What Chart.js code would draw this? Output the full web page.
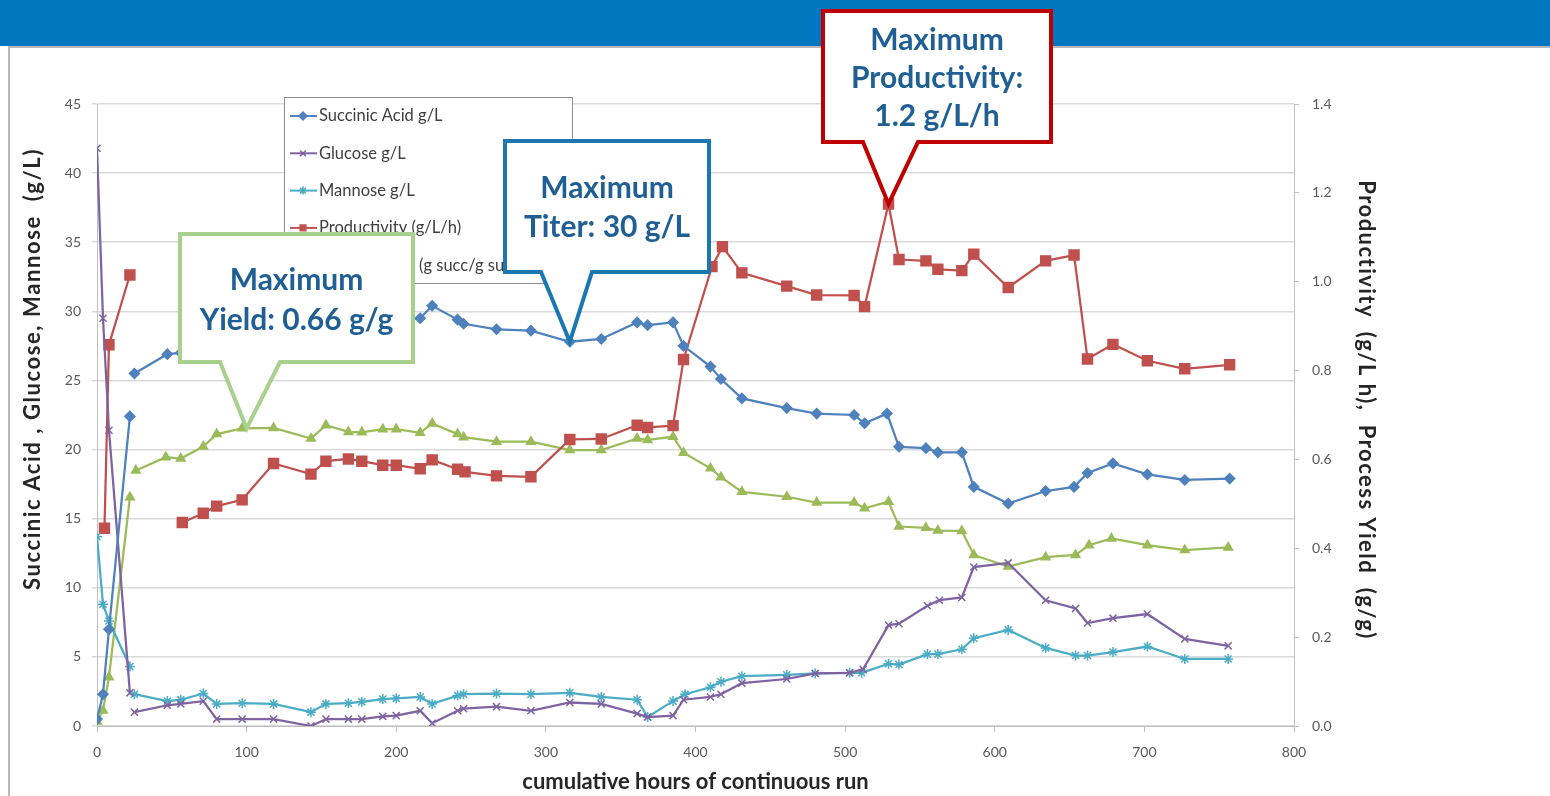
<!DOCTYPE html>
<html>
<head>
<meta charset="utf-8">
<script src="https://cdn.jsdelivr.net/npm/chart.js@4.4.1/dist/chart.umd.min.js"></script>
<style>
  html, body { margin: 0; padding: 0; background: #fff; }
  body { width: 1550px; height: 796px; position: relative; overflow: hidden; }
  .banner { position: absolute; left: 0; top: 0; width: 1550px; height: 46px; background: #0077c0; }
  .frame { position: absolute; left: 8px; top: 46px; width: 1542px; height: 750px;
           border-left: 2px solid #b8b8b8; border-top: 2px solid #b8b8b8; box-sizing: border-box; }
  #chart { position: absolute; left: 0; top: 0; }
</style>
</head>
<body>
<div class="banner"></div>
<div class="frame"></div>
<canvas id="chart" width="1550" height="796"></canvas>
<script>
// cumulative hours of the sampling points (null value = break in the line)
const succHours = [0, 4, 8, 22, 23.5, 25, 47, 56, 71, 80, 97, 118, 143, 153, 168, 177, 191, 200, 216, 224, 241, 245, 267, 290, 316, 337, 361, 368, 385, 392, 410, 417, 431, 461, 481, 506, 513, 528, 536, 554, 562, 578, 586, 609, 634, 653, 662, 679, 702, 727, 757];
const succinicAcid = [0.5, 2.3, 7.0, 22.4, null, 25.5, 26.9, 27.0, 27.4, 27.8, 28.3, 28.8, 28.7, 29.0, 29.2, 29.3, 29.4, 29.3, 29.5, 30.4, 29.4, 29.1, 28.7, 28.6, 27.8, 28.0, 29.2, 29.0, 29.2, 27.5, 26.0, 25.1, 23.7, 23.0, 22.6, 22.5, 21.9, 22.6, 20.2, 20.1, 19.8, 19.8, 17.3, 16.1, 17.0, 17.3, 18.3, 19.0, 18.2, 17.8, 17.9];

const glucHours = [0, 4, 8, 22, 23.5, 25, 47, 56, 71, 80, 97, 118, 143, 153, 168, 177, 191, 200, 216, 224, 241, 245, 267, 290, 316, 337, 361, 368, 385, 392, 410, 417, 431, 461, 480, 503, 512, 529, 536, 555, 563, 578, 586, 609, 634, 654, 662, 679, 702, 727, 756];
const glucose = [41.8, 29.5, 21.4, 2.4, null, 1.0, 1.5, 1.6, 1.8, 0.5, 0.5, 0.5, 0.0, 0.5, 0.5, 0.5, 0.7, 0.75, 1.1, 0.2, 1.1, 1.25, 1.4, 1.1, 1.7, 1.6, 0.9, 0.65, 0.75, 1.9, 2.1, 2.3, 3.1, 3.4, 3.8, 3.85, 4.1, 7.3, 7.4, 8.7, 9.1, 9.3, 11.5, 11.8, 9.1, 8.5, 7.45, 7.8, 8.1, 6.3, 5.8];

const mannHours = [0, 4, 8, 22, 23.5, 25, 47, 56, 71, 80, 97, 118, 143, 153, 168, 177, 191, 200, 216, 224, 241, 245, 267, 290, 316, 337, 361, 368, 385, 393, 410, 417, 431, 461, 480, 503, 511, 529, 536, 555, 562, 578, 586, 609, 634, 654, 662, 679, 702, 727, 756];
const mannose = [13.7, 8.8, 7.6, 4.3, null, 2.3, 1.8, 1.9, 2.35, 1.6, 1.65, 1.6, 1.0, 1.6, 1.65, 1.75, 1.95, 2.0, 2.1, 1.6, 2.2, 2.3, 2.35, 2.3, 2.4, 2.1, 1.9, 0.65, 1.8, 2.3, 2.8, 3.2, 3.6, 3.7, 3.8, 3.85, 3.85, 4.5, 4.45, 5.2, 5.2, 5.55, 6.35, 6.95, 5.65, 5.1, 5.1, 5.35, 5.75, 4.85, 4.85];

const prodHours = [5, 8, 22, 40, 57, 71, 80, 97, 118, 143, 153, 168, 177, 191, 200, 216, 224, 241, 246, 267, 290, 316, 337, 361, 368, 385, 392, 411, 418, 431, 461, 481, 506, 513, 529, 536, 554, 562, 578, 586, 609, 634, 653, 662, 679, 702, 727, 757];
const productivity = [0.445, 0.858, 1.015, null, 0.458, 0.479, 0.495, 0.509, 0.591, 0.567, 0.596, 0.601, 0.596, 0.587, 0.587, 0.579, 0.599, 0.578, 0.572, 0.563, 0.561, 0.645, 0.646, 0.677, 0.672, 0.676, 0.825, 1.034, 1.079, 1.020, 0.990, 0.970, 0.969, 0.944, 1.175, 1.050, 1.047, 1.028, 1.025, 1.062, 0.987, 1.047, 1.060, 0.826, 0.859, 0.822, 0.804, 0.813];

const yieldHours = [0, 4, 8, 22, 24, 26, 46, 56, 71, 80, 97, 118, 143, 153, 168, 177, 191, 200, 216, 224, 241, 245, 267, 290, 316, 337, 361, 368, 385, 392, 410, 417, 431, 461, 481, 506, 513, 529, 536, 554, 562, 578, 586, 609, 634, 654, 663, 678, 702, 727, 756];
const processYield = [0.01, 0.035, 0.11, 0.515, null, 0.575, 0.605, 0.602, 0.629, 0.657, 0.670, 0.671, 0.647, 0.677, 0.662, 0.661, 0.668, 0.668, 0.660, 0.681, 0.657, 0.650, 0.640, 0.640, 0.621, 0.621, 0.647, 0.644, 0.651, 0.615, 0.580, 0.560, 0.527, 0.516, 0.503, 0.503, 0.490, 0.505, 0.449, 0.446, 0.440, 0.439, 0.385, 0.359, 0.380, 0.385, 0.407, 0.422, 0.407, 0.396, 0.402];

const seriesLabels = ['Succinic Acid g/L', 'Glucose g/L', 'Mannose g/L', 'Productivity (g/L/h)', 'Process Yield (g succ/g sugar)'];
const leftTitle = 'Succinic Acid , Glucose, Mannose  (g/L)';
const rightTitle = 'Productivity  (g/L h),  Process Yield  (g/g)';
const xTitle = 'cumulative hours of continuous run';

// callout annotations: pointer tip sits on a data value
const callouts = [
    { lines: ['Maximum', 'Yield: 0.66 g/g'], tip: { x: 100, y: 0.67, axis: 'y1' } },
    { lines: ['Maximum', 'Titer: 30 g/L'], tip: { x: 316, y: 27.8, axis: 'y' } },
    { lines: ['Maximum', 'Productivity:', '1.2 g/L/h'], tip: { x: 529, y: 1.175, axis: 'y1' } }
];
const calloutStyle = [
    { color: '#a9d18e', box: [180, 234, 413, 362], base: [220, 280], textY: [280, 320] },
    { color: '#1b77b0', box: [505, 141, 709, 272], base: [541, 592], textY: [188, 227] },
    { color: '#c00000', box: [823, 11, 1051, 142], base: [863, 918], textY: [40, 78, 116] }
];

const toPoints = (hs, vs) => hs.map((h, i) => ({ x: h, y: vs[i] }));

const colors = {
    succ: '#4f81bd',
    gluc: '#7f63a1',
    mann: '#4bacc6',
    prod: '#c0504d',
    yield: '#9bbb59',
    grid: '#d9d9d9',
    axis: '#bfbfbf',
    tick: '#595959'
};

Chart.defaults.font.family = 'Lato, "Open Sans", sans-serif';

// rotated axis title, letter-spaced to span the same length as the original
function drawVerticalTitle(ctx, text, x, y, angle, span) {
    ctx.save();
    ctx.translate(x, y);
    ctx.rotate(angle);
    ctx.font = 'bold 22px Lato';
    ctx.fillStyle = '#262626';
    ctx.textAlign = 'center';
    ctx.textBaseline = 'middle';
    const w = ctx.measureText(text).width;
    ctx.letterSpacing = Math.max(0, (span - w) / text.length).toFixed(2) + 'px';
    ctx.fillText(text, 0, 0);
    ctx.restore();
}

const legendBox = {
    id: 'legendBox',
    afterDatasetsDraw(chart) {
        const ctx = chart.ctx;
        ctx.save();
        ctx.fillStyle = '#fff';
        ctx.fillRect(284, 97, 288, 186);
        ctx.strokeStyle = '#8c8c8c';
        ctx.lineWidth = 1;
        ctx.strokeRect(284.5, 97.5, 288, 186);
        chart.data.datasets.forEach((ds, i) => {
            const y = 116 + i * 37.3;
            ctx.strokeStyle = ds.borderColor;
            ctx.lineWidth = 2;
            ctx.beginPath();
            ctx.moveTo(290, y);
            ctx.lineTo(317, y);
            ctx.stroke();
            ctx.fillStyle = ds.pointBackgroundColor;
            ctx.strokeStyle = ds.borderColor;
            ctx.lineWidth = 1.5;
            Chart.helpers.drawPoint(ctx, { pointStyle: ds.pointStyle, radius: 4, rotation: 0, borderWidth: 1.5 }, 303, y);
            ctx.fillStyle = '#404040';
            ctx.font = '16.5px Lato';
            ctx.textBaseline = 'middle';
            ctx.textAlign = 'left';
            ctx.fillText(ds.label, 319, y);
        });
        ctx.restore();
    }
};

const annotations = {
    id: 'annotations',
    afterDraw(chart) {
        const ctx = chart.ctx;
        const xs = chart.scales.x;
        drawVerticalTitle(ctx, leftTitle, 33, 369, -Math.PI / 2, 442);
        drawVerticalTitle(ctx, rightTitle, 1366, 410, Math.PI / 2, 460);

        callouts.forEach((c, i) => {
            const s = calloutStyle[i];
            const [x1, y1, x2, y2] = s.box;
            const tx = xs.getPixelForValue(c.tip.x);
            const ty = chart.scales[c.tip.axis].getPixelForValue(c.tip.y);
            ctx.save();
            ctx.beginPath();
            ctx.moveTo(x1, y1);
            ctx.lineTo(x2, y1);
            ctx.lineTo(x2, y2);
            ctx.lineTo(s.base[1], y2);
            ctx.lineTo(tx, ty);
            ctx.lineTo(s.base[0], y2);
            ctx.lineTo(x1, y2);
            ctx.closePath();
            ctx.fillStyle = '#fff';
            ctx.fill();
            ctx.lineWidth = 4;
            ctx.lineJoin = 'miter';
            ctx.strokeStyle = s.color;
            ctx.stroke();
            ctx.fillStyle = '#1f5f94';
            ctx.font = 'bold 30px Lato';
            ctx.textAlign = 'center';
            ctx.textBaseline = 'middle';
            c.lines.forEach((t, k) => ctx.fillText(t, (x1 + x2) / 2, s.textY[k]));
            ctx.restore();
        });
    }
};

function lineSet(label, hs, vs, color, style, radius, axis) {
    return {
        label: label,
        data: toPoints(hs, vs),
        yAxisID: axis,
        borderColor: color,
        backgroundColor: color,
        pointBackgroundColor: color,
        pointBorderColor: color,
        borderWidth: 2.25,
        pointStyle: style,
        pointRadius: radius,
        pointBorderWidth: 1.5,
        tension: 0,
        spanGaps: false
    };
}

new Chart(document.getElementById('chart'), {
    type: 'line',
    data: {
        datasets: [
            lineSet(seriesLabels[0], succHours, succinicAcid, colors.succ, 'rectRot', 5, 'y'),
            lineSet(seriesLabels[1], glucHours, glucose, colors.gluc, 'crossRot', 5, 'y'),
            lineSet(seriesLabels[2], mannHours, mannose, colors.mann, 'star', 5, 'y'),
            lineSet(seriesLabels[3], prodHours, productivity, colors.prod, 'rect', 7, 'y1'),
            lineSet(seriesLabels[4], yieldHours, processYield, colors.yield, 'triangle', 5, 'y1')
        ]
    },
    options: {
        responsive: false,
        animation: false,
        layout: { padding: { top: 104, left: 0, right: 0, bottom: 0 } },
        plugins: {
            legend: { display: false },
            tooltip: { enabled: false }
        },
        scales: {
            x: {
                type: 'linear',
                min: 0,
                max: 800,
                afterFit: (s) => { s.height = 70; },
                ticks: { stepSize: 100, color: colors.tick, font: { size: 14 }, padding: 12 },
                grid: { drawOnChartArea: false, tickLength: 6, color: colors.axis },
                border: { display: true, color: colors.axis },
                title: {
                    display: true,
                    text: xTitle,
                    color: '#262626',
                    font: { size: 22, weight: 'bold' },
                    padding: { top: 0, bottom: 1 }
                }
            },
            y: {
                position: 'left',
                min: 0,
                max: 45,
                afterFit: (s) => { s.width = 97; },
                ticks: { stepSize: 5, color: colors.tick, font: { size: 14 }, padding: 11 },
                grid: { color: colors.grid, lineWidth: 1.5, tickLength: 5 },
                border: { display: true, color: colors.axis }
            },
            y1: {
                position: 'right',
                min: 0,
                max: 1.4,
                afterFit: (s) => { s.width = 256; },
                ticks: {
                    stepSize: 0.2,
                    color: colors.tick,
                    font: { size: 14 },
                    padding: 13,
                    callback: (v) => v.toFixed(1)
                },
                grid: { drawOnChartArea: false, tickLength: 5, color: colors.axis },
                border: { display: true, color: colors.axis }
            }
        }
    },
    plugins: [legendBox, annotations]
});
</script>
</body>
</html>
